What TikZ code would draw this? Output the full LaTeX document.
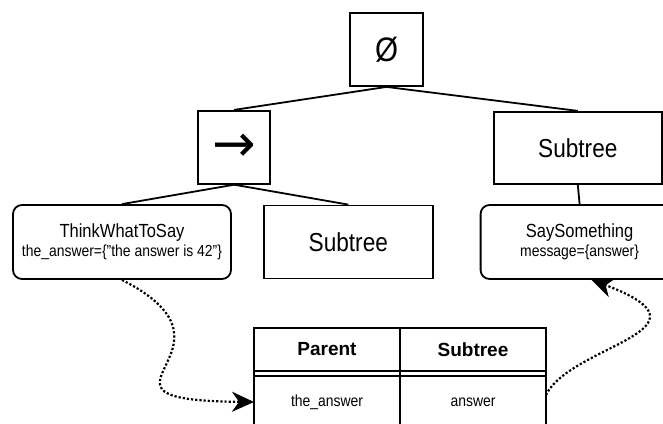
\documentclass[tikz,border=0pt]{standalone}
\usepackage{fontspec}
\setmainfont{Liberation Sans}[FakeStretch=0.87]
\newfontfamily\headfont{Liberation Sans}
\newfontfamily\symfont{DejaVu Sans}
\usetikzlibrary{positioning, arrows.meta}
\newcommand{\btnode}[3]{\node[draw, #3] (#1) {#2};}
\newcommand{\btedge}[3]{\draw [#3] (#1) -- (#2);}
\newcommand{\bbflow}[5]{\draw [flow, #5] (#1) .. controls #3 and #4 .. (#2);}

\begin{document}
\begin{tikzpicture}[x=1pt, y=-1pt, line width=1.8pt,
  every node/.style={inner sep=0pt},
  box/.style={minimum width=#1, minimum height=73pt},
  leaf/.style={rounded corners=9pt, minimum width=#1, minimum height=74pt, align=center},
  cell/.style={outer sep=0pt, minimum width=146pt},
  flow/.style={line width=2.2pt, dash pattern=on 2.2pt off 2pt, -{Stealth[length=22pt, width=20pt, inset=7pt]}}] % pixel grid, y runs down

\useasboundingbox (0,0) rectangle (663,423);

\btnode{root}{Ø}{box=73pt, at={(386.5,49.5)}, font=\fontsize{34}{34}\selectfont};
\btnode{seq}{\symfont →}{box=72pt, below left = 23pt and 78pt of root, font=\fontsize{52}{52}\selectfont};
\btnode{sub2}{Subtree}{box=168pt, minimum height=72pt, below right = 24pt and 69pt of root, font=\fontsize{26}{30}\selectfont};

\btnode{think}{\fontsize{19}{22}\selectfont ThinkWhatToSay\\[3pt]\fontsize{16}{18}\selectfont the\_answer=\{\char"22 the answer is 42\char"22\}}{leaf=218pt, at={(122,242)}};
\btnode{sub1}{Subtree}{box=169pt, right = 31pt of think, font=\fontsize{26}{30}\selectfont};
\btnode{say}{\fontsize{19}{22}\selectfont SaySomething\\[3pt]\fontsize{16}{18}\selectfont message=\{answer\}}{leaf=198pt, right = 46pt of sub1};

\btedge{root.south}{seq.north}{};
\btedge{root.south}{sub2.north}{};
\btedge{seq.south}{think.north}{};
\btedge{seq.south}{sub1.north}{};
\btedge{sub2.south}{say.north}{};

% blackboard table
\btnode{hpar}{\headfont\bfseries Parent}{cell, minimum height=43pt, at={(327,349.5)}, font=\fontsize{19}{22}\selectfont};
\btnode{hsub}{\headfont\bfseries Subtree}{cell, minimum height=43pt, right = 0pt of hpar, font=\fontsize{19}{22}\selectfont};
\btnode{vpar}{the\_answer}{cell, minimum height=52pt, below = 5pt of hpar, font=\fontsize{16}{18}\selectfont};
\btnode{vsub}{answer}{cell, minimum height=52pt, right = 0pt of vpar, font=\fontsize{16}{18}\selectfont};
\btedge{hpar.south west}{vpar.north west}{};
\btedge{hpar.south east}{vpar.north east}{};
\btedge{hsub.south east}{vsub.north east}{};

\bbflow{think.south}{vpar.west}{(260,350)}{(60,400)}{};
\bbflow{[yshift=7pt]vsub.east}{[xshift=12pt]say.south}{(570,345)}{(725,330)}{};
\end{tikzpicture}
\end{document}
